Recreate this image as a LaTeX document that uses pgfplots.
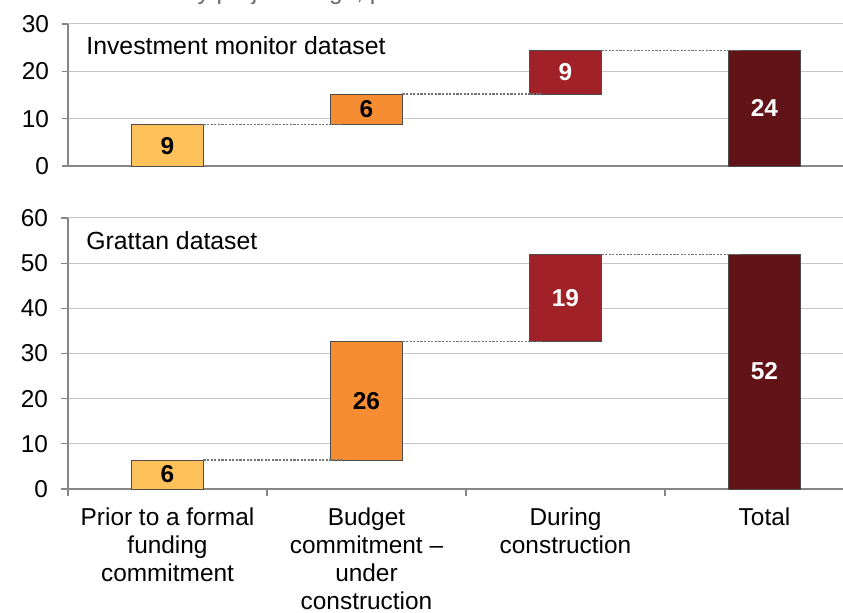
\documentclass[border=0pt]{standalone}
\usepackage{fontspec}
\setmainfont{Liberation Sans}
\usepackage{pgfplots}
\pgfplotsset{compat=1.18}
\definecolor{cYel}{HTML}{FFC25A}
\definecolor{cOra}{HTML}{F68D33}
\definecolor{cRed}{HTML}{A02228}
\definecolor{cDrk}{HTML}{621317}
\definecolor{gridc}{HTML}{C6C6C6}
\definecolor{axc}{HTML}{868686}
\definecolor{titc}{HTML}{6A6A6A}
\pgfplotsset{
  geom/.style={scale only axis, width=387.5pt, xmin=-0.5, xmax=3.3945, ymin=0, clip=false},
  wf/.style={geom,
    axis x line=bottom, axis y line=left,
    axis line style={axc,-},
    x axis line style={line width=1pt},
    y axis line style={line width=0.6pt},
    ybar stacked, bar width=0.36,
    ymajorgrids, grid style={gridc, line width=0.5pt},
    tick align=outside, major tick length=3pt,
    tick style={axc, line width=0.6pt},
    /pgf/number format/assume math mode=true,
    ticklabel style={font=\fontsize{12.2}{14}\selectfont},
    yticklabel style={xshift=-3pt},
  },
  ov/.style={geom, hide axis},
  barsty/.style={draw=black!70, line width=0.45pt},
  lab/.style={draw=none, mark=none, nodes near coords, point meta=explicit symbolic,
    every node near coord/.style={anchor=center, font=\fontsize{12.2}{14}\selectfont\bfseries, text=#1}},
  conn/.style={dash pattern=on 1.1pt off 0.7pt, line width=0.6pt, color=black!55},
}
\begin{document}
\begin{tikzpicture}[x=1pt,y=1pt]
\path[use as bounding box] (0,0) rectangle (421.5,-306.5);
\node[anchor=base west, inner sep=0, text=titc, font=\fontsize{12.2}{14}\selectfont] at (12.5,0.2) {Cost overruns by project stage, per cent};
% ---------- top panel
\begin{axis}[wf, at={(34pt,-83pt)}, anchor=south west, height=71pt, ymax=30,
  ytick={0,10,20,30}, xtick=\empty]
\addplot[draw=none, fill=none] coordinates {(0,0) (1,8.8) (2,15.2) (3,0)};
\addplot[barsty, fill=cYel] coordinates {(0,8.8) (1,0) (2,0) (3,0)};
\addplot[barsty, fill=cOra] coordinates {(0,0) (1,6.4) (2,0) (3,0)};
\addplot[barsty, fill=cRed] coordinates {(0,0) (1,0) (2,9.2) (3,0)};
\addplot[barsty, fill=cDrk] coordinates {(0,0) (1,0) (2,0) (3,24.4)};
\end{axis}
\begin{axis}[ov, at={(34pt,-83pt)}, anchor=south west, height=71pt, ymax=30]
\addplot[conn] coordinates {(0.18,8.8) (0.88,8.8)};
\addplot[conn] coordinates {(1.18,15.2) (1.88,15.2)};
\addplot[conn] coordinates {(2.18,24.4) (2.88,24.4)};
\addplot[lab=black] coordinates {(0,4.2) [9] (1,12.0) [6]};
\addplot[lab=white] coordinates {(2,19.8) [9] (3,12.2) [24]};
\end{axis}
\node[anchor=base west, inner sep=0, font=\fontsize{12.4}{14}\selectfont] at (43,-27.2) {Investment monitor dataset};
% ---------- bottom panel
\begin{axis}[wf, at={(34pt,-244.5pt)}, anchor=south west, height=135.5pt, ymax=60,
  major tick length=3.5pt,
  ytick={0,10,20,30,40,50,60},
  xtick={-0.5,0.5,1.5,2.5}, xticklabels={},
  extra x ticks={0,1,2,3},
  extra x tick labels={{Prior to a formal\\funding\\commitment},{Budget\\commitment –\\under\\construction},{During\\construction},{Total}},
  extra x tick style={major tick length=0pt, xticklabel style={align=center, yshift=-6pt}}]
\addplot[draw=none, fill=none] coordinates {(0,0) (1,6.4) (2,32.7) (3,0)};
\addplot[barsty, fill=cYel] coordinates {(0,6.4) (1,0) (2,0) (3,0)};
\addplot[barsty, fill=cOra] coordinates {(0,0) (1,26.3) (2,0) (3,0)};
\addplot[barsty, fill=cRed] coordinates {(0,0) (1,0) (2,19.3) (3,0)};
\addplot[barsty, fill=cDrk] coordinates {(0,0) (1,0) (2,0) (3,52.0)};
\end{axis}
\begin{axis}[ov, at={(34pt,-244.5pt)}, anchor=south west, height=135.5pt, ymax=60]
\addplot[conn] coordinates {(0.18,6.4) (0.88,6.4)};
\addplot[conn] coordinates {(1.18,32.7) (1.88,32.7)};
\addplot[conn] coordinates {(2.18,52.0) (2.88,52.0)};
\addplot[lab=black] coordinates {(0,3.2) [6] (1,19.55) [26]};
\addplot[lab=white] coordinates {(2,42.35) [19] (3,26.0) [52]};
\end{axis}
\node[anchor=base west, inner sep=0, font=\fontsize{12.4}{14}\selectfont] at (43,-125) {Grattan dataset};
\end{tikzpicture}
\end{document}
